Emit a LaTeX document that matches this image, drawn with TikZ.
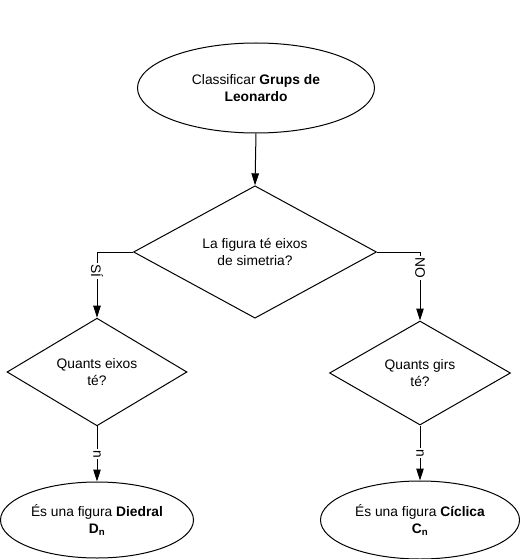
\documentclass[tikz,border=0pt]{standalone}
\usepackage{fontspec}
\setmainfont{Liberation Sans}
\usetikzlibrary{shapes.geometric,arrows.meta}
\begin{document}
\begin{tikzpicture}[x=1pt,y=-1pt,
  every node/.style={font=\fontsize{13.8}{17}\selectfont, align=center, text=black},
  oval/.style={draw, ellipse, inner sep=0pt},
  decision/.style={draw, diamond, inner sep=0pt},
  conn/.style={draw, line width=1pt, -{Triangle[width=7.5pt,length=12pt]}},
  lbl/.style={fill=white, rotate=-90, inner sep=1.5pt}]
\useasboundingbox (0,0) rectangle (520,559);
\node[oval, line width=1pt, minimum width=237, minimum height=90] (start) at (256,88)
  {Classificar \textbf{Grups de}\\\textbf{Leonardo}};
\node[decision, line width=1pt, minimum width=243, minimum height=131] (q1) at (255,252)
  {La figura té eixos\\de simetria?};
\node[decision, line width=1pt, minimum width=180, minimum height=102] (qL) at (97,372)
  {Quants eixos\\té?};
\node[decision, line width=1pt, minimum width=181, minimum height=104] (qR) at (420,373)
  {Quants girs\\té?};
\node[oval, line width=1pt, minimum width=193, minimum height=76] (eL) at (97,520)
  {És una figura \textbf{Diedral}\\\textbf{D\textsubscript{n}}};
\node[oval, line width=1pt, minimum width=199, minimum height=78] (eR) at (420,520)
  {És una figura \textbf{Cíclica}\\\textbf{C\textsubscript{n}}};
\coordinate (cL) at (97,252);
\coordinate (cR) at (420,252);
\draw[conn] (start.south) -- (q1.north);
\draw[conn] (q1.west) -- (cL) -- node[lbl, pos=0.29] {SÍ} (qL.north);
\draw[conn] (q1.east) -- (cR) -- node[lbl, pos=0.23] {NO} (qR.north);
\draw[conn] (qL.south) -- node[lbl, pos=0.5] {n} (eL.north);
\draw[conn] (qR.south) -- node[lbl, pos=0.5] {n} (eR.north);
\end{tikzpicture}
\end{document}
